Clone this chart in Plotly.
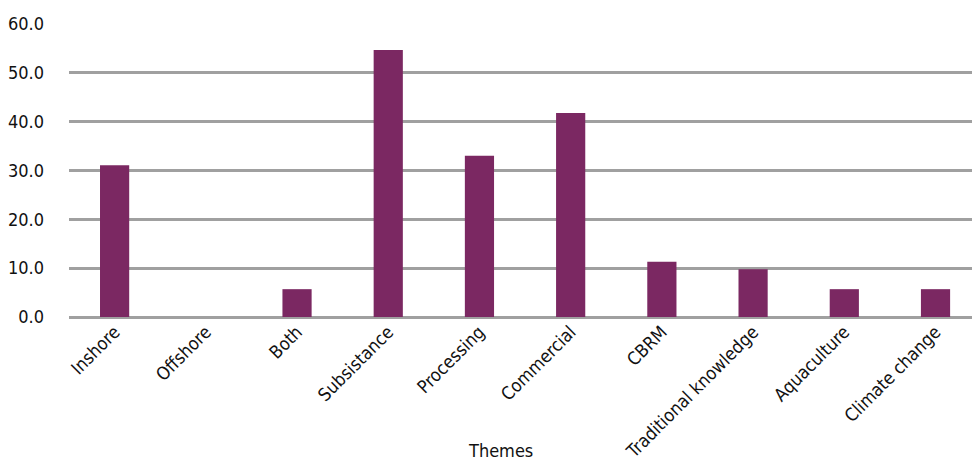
import plotly.graph_objects as go

themes = ["Inshore", "Offshore", "Both", "Subsistance", "Processing", "Commercial",
          "CBRM", "Traditional knowledge", "Aquaculture", "Climate change"]
values = [31.1, 0.0, 5.7, 54.7, 33.0, 41.8, 11.3, 9.8, 5.7, 5.7]
y_ticks = [0, 10, 20, 30, 40, 50, 60]
y_labels = ["0.0", "10.0", "20.0", "30.0", "40.0", "50.0", "60.0"]

FONT = "DejaVu Sans Condensed, Liberation Sans Narrow, sans-serif"

fig = go.Figure(go.Bar(x=themes, y=values, marker_color="#7b2862",
                       marker_line_width=0, width=0.32))

fig.update_layout(
    width=972, height=463,
    margin=dict(l=69, r=0, t=24, b=146),
    paper_bgcolor="white", plot_bgcolor="white",
    showlegend=False,
    font=dict(family=FONT, size=18, color="#111111"),
)
fig.update_xaxes(range=[-0.5, 9.4], tickangle=-45, showgrid=False, showline=False,
                 tickfont=dict(size=18), ticks="", automargin=False)
fig.update_yaxes(range=[0, 60], tickvals=y_ticks, ticktext=y_labels,
                 showgrid=True, gridcolor="#a0a0a0", gridwidth=2.5,
                 zeroline=True, zerolinecolor="#a0a0a0", zerolinewidth=2.5,
                 showline=False, ticks="", ticklabelstandoff=24,
                 tickfont=dict(size=18), automargin=False)
fig.add_annotation(text="Themes", xref="paper", yref="paper", x=0.478, y=0,
                   yshift=-133, showarrow=False, yanchor="middle",
                   font=dict(family=FONT, size=18, color="#111111"))

fig.write_html("out.html")
